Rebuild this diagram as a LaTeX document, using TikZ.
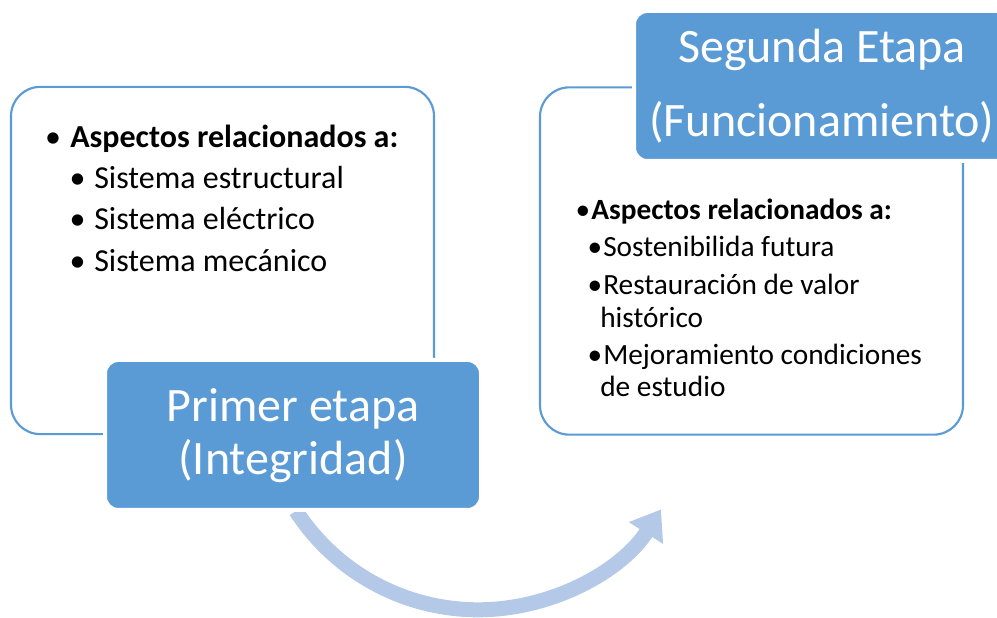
\documentclass[tikz,border=0pt]{standalone}
\usepackage{fontspec}
\setmainfont{Carlito}
\usetikzlibrary{arrows.meta}
\usetikzlibrary{positioning}

\begin{document}
\begin{tikzpicture}[x=0.75pt, y=0.75pt,
   outerBox/.style={draw=BoxBlue, line width=1.6pt, fill=white, rounded corners=22pt, minimum width=317.25pt, minimum height=260.5pt, inner sep=0pt},
   stageBox/.style={draw=white, line width=3pt, fill=BoxBlue, rounded corners=10pt, minimum width=282pt, minimum height=112.5pt, inner sep=0pt},
   stageText/.style={white, font=\fontsize{36}{42}\selectfont, anchor=base, inner sep=0pt},
   bigItem/.style={font=\fontsize{24}{29}\selectfont, anchor=base west, inner sep=0pt},
   bigDot/.style={font=\fontsize{24}{29}\selectfont, anchor=base, inner sep=0pt},
   smallItem/.style={font=\fontsize{22}{27}\selectfont, anchor=base west, inner sep=0pt},
   smallDot/.style={font=\fontsize{22}{27}\selectfont, anchor=base, inner sep=0pt}]
   		\definecolor{BoxBlue}{RGB}{91,155,213}
   		\definecolor{ArcBlue}{RGB}{180,200,232}
   		\def \ArcRad {162.75pt}
   		
   		\useasboundingbox (0,0) rectangle (997,618);
   		\clip (0,0) rectangle (997,618);
   		
   		% rounded white boxes
   		\node[outerBox](boxA) at (222.5,357.5){};
   		\node[outerBox](boxB) at (751.5,357){};
   		
   		% curved arrow under the boxes
   		\coordinate (arcStart) at (296,107);
   		\draw [ArcBlue, line width=11.25pt, -{Triangle[length=21pt, width=29pt]}] (arcStart) arc[start angle=213, end angle=327.5, radius=\ArcRad];
   		
   		% blue stage boxes
   		\node[stageBox](stageA) at (293,183){};
   		\node[stageBox](stageB) at (822,532){};
   		
   		\node[stageText](textA1) at (293,196){Primer etapa};
   		\node[stageText](textA2) at (293,143){(Integridad)};
   		\node[stageText](textB1) at (822,555){Segunda Etapa};
   		\node[stageText](textB2) at (822,481){(Funcionamiento)};
   		
   		% list of the first box
   		\node[bigDot](dotA0) at (53,470){•};
   		\node[bigItem](itemA0) at (70,470){\bfseries Aspectos relacionados a:};
   		\node[bigDot](dotA1) at (77.5,429){•};
   		\node[bigItem](itemA1) at (94,429){Sistema estructural};
   		\node[bigDot](dotA2) at (77.5,388){•};
   		\node[bigItem](itemA2) at (94,388){Sistema eléctrico};
   		\node[bigDot](dotA3) at (77.5,346){•};
   		\node[bigItem](itemA3) at (94,346){Sistema mecánico};
   		
   		% list of the second box
   		\node[smallDot](dotB0) at (583,398){•};
   		\node[smallItem](itemB0) at (591,398){\bfseries Aspectos relacionados a:};
   		\node[smallDot](dotB1) at (595,361){•};
   		\node[smallItem](itemB1) at (603,361){Sostenibilida futura};
   		\node[smallDot](dotB2) at (595,323){•};
   		\node[smallItem](itemB2) at (603,323){Restauración de valor};
   		\node[smallItem](itemB3) at (600,290){histórico};
   		\node[smallDot](dotB4) at (595,253){•};
   		\node[smallItem](itemB4) at (603,253){Mejoramiento condiciones};
   		\node[smallItem](itemB5) at (600,221){de estudio};
   		
\end{tikzpicture}
\end{document}
